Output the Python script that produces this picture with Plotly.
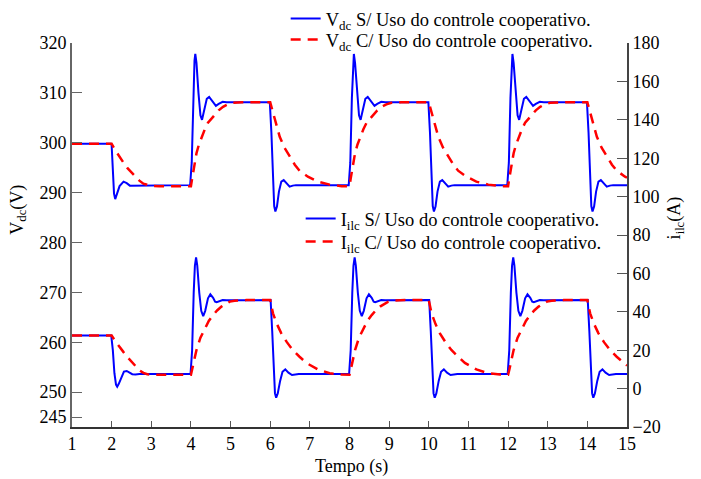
import plotly.graph_objects as go

# ---------------- data ----------------
vdc_s_t = [
    1.0, 1.98, 2.0, 2.03, 2.06, 2.09, 2.13, 2.2, 2.3, 2.38, 2.46, 2.55, 2.65,
    3.98, 4.02, 4.06, 4.09, 4.11, 4.14, 4.19, 4.24, 4.28, 4.33, 4.40, 4.46, 4.53, 4.59, 4.63, 4.70, 4.80, 4.90,
    5.99, 6.03, 6.07, 6.10, 6.13, 6.17, 6.22, 6.28, 6.34, 6.41, 6.49, 6.57, 6.65,
    7.98, 8.02, 8.06, 8.09, 8.11, 8.14, 8.19, 8.24, 8.28, 8.33, 8.40, 8.46, 8.53, 8.59, 8.63, 8.70, 8.80, 8.90,
    9.99, 10.03, 10.07, 10.10, 10.13, 10.17, 10.22, 10.28, 10.34, 10.41, 10.49, 10.57, 10.65,
    11.98, 12.02, 12.06, 12.09, 12.11, 12.14, 12.19, 12.24, 12.28, 12.33, 12.40, 12.46, 12.53, 12.59, 12.63, 12.70, 12.80, 12.90,
    13.99, 14.03, 14.07, 14.10, 14.13, 14.17, 14.22, 14.28, 14.34, 14.41, 14.49, 14.57, 14.65,
    15.0]
vdc_s = [
    299.8, 299.8, 299.5, 294.0, 289.8, 288.7, 289.5, 291.3, 292.2, 291.9, 291.4, 291.4, 291.5,
    291.5, 296.0, 309.0, 316.5, 317.8, 316.0, 310.0, 305.5, 304.6, 306.3, 308.8, 309.2, 308.4, 307.6, 307.4, 307.8, 308.2, 308.1,
    308.1, 302.0, 292.0, 287.3, 286.2, 287.2, 290.2, 292.2, 292.5, 291.8, 291.2, 291.4, 291.5,
    291.5, 296.0, 309.0, 316.5, 317.8, 316.0, 310.0, 305.5, 304.6, 306.3, 308.8, 309.2, 308.4, 307.6, 307.4, 307.8, 308.2, 308.1,
    308.1, 302.0, 292.0, 287.3, 286.2, 287.2, 290.2, 292.2, 292.5, 291.8, 291.2, 291.4, 291.5,
    291.5, 296.0, 309.0, 316.5, 317.8, 316.0, 310.0, 305.5, 304.6, 306.3, 308.8, 309.2, 308.4, 307.6, 307.4, 307.8, 308.2, 308.1,
    308.1, 302.0, 292.0, 287.3, 286.2, 287.2, 290.2, 292.2, 292.5, 291.8, 291.2, 291.4, 291.5,
    291.5]

vdc_c_t = [
    1.0, 2.0, 2.1, 2.2, 2.3, 2.4, 2.5, 2.6, 2.7, 2.8, 2.9, 3.0, 3.2,
    4.0, 4.03, 4.06, 4.10, 4.14, 4.20, 4.27, 4.35, 4.43, 4.52, 4.60, 4.70, 4.81, 4.93, 5.06, 5.30,
    6.0, 6.03, 6.10, 6.17, 6.24, 6.36, 6.49, 6.62, 6.74, 6.85, 6.95, 7.20, 7.50, 7.80,
    8.0, 8.03, 8.06, 8.10, 8.14, 8.20, 8.27, 8.35, 8.43, 8.52, 8.60, 8.70, 8.81, 8.93, 9.06, 9.30,
    10.0, 10.03, 10.10, 10.17, 10.24, 10.36, 10.49, 10.62, 10.74, 10.85, 10.95, 11.20, 11.50, 11.80,
    12.0, 12.03, 12.06, 12.10, 12.14, 12.20, 12.27, 12.35, 12.43, 12.52, 12.60, 12.70, 12.81, 12.93, 13.06, 13.30,
    14.0, 14.03, 14.10, 14.17, 14.24, 14.36, 14.49, 14.62, 14.74, 14.85, 14.95, 15.0]
vdc_c = [
    299.8, 299.8, 298.4, 297.1, 296.0, 294.9, 294.0, 293.1, 292.4, 291.8, 291.5, 291.35, 291.3,
    291.3, 292.8, 294.2, 296.2, 297.9, 299.6, 301.2, 302.7, 304.0, 304.9, 305.6, 306.5, 307.2, 307.7, 308.0, 308.1,
    308.1, 307.2, 305.1, 303.1, 301.2, 299.0, 297.2, 295.6, 294.4, 293.7, 293.2, 292.2, 291.6, 291.3,
    291.3, 292.8, 294.2, 296.2, 297.9, 299.6, 301.2, 302.7, 304.0, 304.9, 305.6, 306.5, 307.2, 307.7, 308.0, 308.1,
    308.1, 307.2, 305.1, 303.1, 301.2, 299.0, 297.2, 295.6, 294.4, 293.7, 293.2, 292.2, 291.6, 291.3,
    291.3, 292.8, 294.2, 296.2, 297.9, 299.6, 301.2, 302.7, 304.0, 304.9, 305.6, 306.5, 307.2, 307.7, 308.0, 308.1,
    308.1, 307.2, 305.1, 303.1, 301.2, 299.0, 297.2, 295.6, 294.4, 293.7, 293.2, 293.0]

ilc_s_t = [
    1.0, 1.99, 2.03, 2.07, 2.11, 2.14, 2.18, 2.25, 2.31, 2.38, 2.45, 2.52, 2.60, 2.70,
    3.99, 4.03, 4.07, 4.10, 4.13, 4.16, 4.21, 4.26, 4.31, 4.36, 4.43, 4.49, 4.56, 4.61, 4.65, 4.72, 4.80, 4.90,
    6.01, 6.05, 6.09, 6.12, 6.15, 6.19, 6.25, 6.31, 6.38, 6.46, 6.55, 6.63, 6.72,
    7.99, 8.03, 8.07, 8.10, 8.13, 8.16, 8.21, 8.26, 8.31, 8.36, 8.43, 8.49, 8.56, 8.61, 8.65, 8.72, 8.80, 8.90,
    10.01, 10.05, 10.09, 10.12, 10.15, 10.19, 10.25, 10.31, 10.38, 10.46, 10.55, 10.63, 10.72,
    11.99, 12.03, 12.07, 12.10, 12.13, 12.16, 12.21, 12.26, 12.31, 12.36, 12.43, 12.49, 12.56, 12.61, 12.65, 12.72, 12.80, 12.90,
    14.01, 14.05, 14.09, 14.12, 14.15, 14.19, 14.25, 14.31, 14.38, 14.46, 14.55, 14.63, 14.72,
    15.0]
ilc_s = [
    27.6, 27.6, 20.0, 8.0, 2.0, 1.0, 2.5, 6.5, 8.9, 9.2, 8.3, 7.5, 7.4, 7.6,
    7.6, 20.0, 50.0, 64.0, 68.4, 64.0, 50.0, 40.5, 37.8, 40.5, 47.0, 49.1, 47.3, 45.3, 45.0, 45.6, 46.1, 46.0,
    46.1, 30.0, 8.0, -2.5, -4.7, -2.5, 4.0, 8.8, 10.0, 8.3, 7.1, 7.4, 7.6,
    7.6, 20.0, 50.0, 64.0, 68.4, 64.0, 50.0, 40.5, 37.8, 40.5, 47.0, 49.1, 47.3, 45.3, 45.0, 45.6, 46.1, 46.0,
    46.1, 30.0, 8.0, -2.5, -4.7, -2.5, 4.0, 8.8, 10.0, 8.3, 7.1, 7.4, 7.6,
    7.6, 20.0, 50.0, 64.0, 68.4, 64.0, 50.0, 40.5, 37.8, 40.5, 47.0, 49.1, 47.3, 45.3, 45.0, 45.6, 46.1, 46.0,
    46.1, 30.0, 8.0, -2.5, -4.7, -2.5, 4.0, 8.8, 10.0, 8.3, 7.1, 7.4, 7.6,
    7.6]

ilc_c_t = [
    1.0, 2.0, 2.1, 2.2, 2.3, 2.4, 2.5, 2.6, 2.7, 2.8, 2.9, 3.0, 3.2,
    4.0, 4.03, 4.08, 4.14, 4.24, 4.35, 4.45, 4.56, 4.66, 4.77, 4.88, 4.98, 5.10, 5.23, 5.40,
    6.0, 6.07, 6.17, 6.28, 6.42, 6.57, 6.74, 6.91, 7.20, 7.50, 7.80,
    8.0, 8.03, 8.08, 8.14, 8.24, 8.35, 8.45, 8.56, 8.66, 8.77, 8.88, 8.98, 9.10, 9.23, 9.40,
    10.0, 10.07, 10.17, 10.28, 10.42, 10.57, 10.74, 10.91, 11.20, 11.50, 11.80,
    12.0, 12.03, 12.08, 12.14, 12.24, 12.35, 12.45, 12.56, 12.66, 12.77, 12.88, 12.98, 13.10, 13.23, 13.40,
    14.0, 14.07, 14.17, 14.28, 14.42, 14.57, 14.74, 14.91, 15.0]
ilc_c = [
    27.6, 27.6, 24.5, 21.5, 19.0, 16.4, 14.0, 11.5, 9.5, 8.2, 7.5, 7.3, 7.2,
    7.2, 9.7, 14.5, 20.1, 26.5, 31.4, 35.2, 38.3, 40.7, 42.7, 44.2, 45.3, 45.8, 46.1, 46.1,
    46.1, 39.2, 33.6, 28.8, 24.2, 20.1, 16.6, 13.4, 10.0, 8.0, 7.3,
    7.2, 9.7, 14.5, 20.1, 26.5, 31.4, 35.2, 38.3, 40.7, 42.7, 44.2, 45.3, 45.8, 46.1, 46.1,
    46.1, 39.2, 33.6, 28.8, 24.2, 20.1, 16.6, 13.4, 10.0, 8.0, 7.3,
    7.2, 9.7, 14.5, 20.1, 26.5, 31.4, 35.2, 38.3, 40.7, 42.7, 44.2, 45.3, 45.8, 46.1, 46.1,
    46.1, 39.2, 33.6, 28.8, 24.2, 20.1, 16.6, 13.4, 12.0]

x_ticks = list(range(1, 16))
left_ticks = [245, 250, 260, 270, 280, 290, 300, 310, 320]
right_ticks = list(range(-20, 181, 20))

# ---------------- figure ----------------
FONT = "Liberation Serif"
BLUE = "#0000ff"
RED = "#ff0000"
DASH = "10px,7px"

fig = go.Figure()
fig.add_trace(go.Scatter(x=vdc_s_t, y=vdc_s, mode="lines", line=dict(color=BLUE, width=2),
                         name="V<sub>dc</sub> S/ Uso do controle cooperativo.", legend="legend"))
fig.add_trace(go.Scatter(x=vdc_c_t, y=vdc_c, mode="lines", line=dict(color=RED, width=2.5, dash=DASH),
                         name="V<sub>dc</sub> C/ Uso do controle cooperativo.", legend="legend2"))
fig.add_trace(go.Scatter(x=ilc_s_t, y=ilc_s, mode="lines", line=dict(color=BLUE, width=2),
                         name="I<sub>ilc</sub> S/ Uso do controle cooperativo.", legend="legend3", yaxis="y2"))
fig.add_trace(go.Scatter(x=ilc_c_t, y=ilc_c, mode="lines", line=dict(color=RED, width=2.5, dash=DASH),
                         name="I<sub>ilc</sub> C/ Uso do controle cooperativo.", legend="legend4", yaxis="y2"))

tickfont = dict(family=FONT, size=18, color="black")
legfont = dict(family=FONT, size=18.5, color="black")


def leg(x, y):
    return dict(x=x, y=y, xanchor="left", yanchor="middle", bgcolor="rgba(0,0,0,0)",
                font=legfont, itemwidth=30)


fig.update_layout(
    width=701, height=479,
    margin=dict(l=72, r=74, t=43, b=52, autoexpand=False),
    paper_bgcolor="white", plot_bgcolor="white",
    font=dict(family=FONT, size=18, color="black"),
    showlegend=True,
    xaxis=dict(range=[1, 15], tickvals=x_ticks, ticks="inside", ticklen=6, tickcolor="#555",
               showline=True, linecolor="#333", linewidth=1.5, showgrid=False, zeroline=False,
               tickfont=tickfont),
    yaxis=dict(range=[243, 320], tickvals=left_ticks, ticks="inside", ticklen=10, tickcolor="#666",
               showline=True, linecolor="#666", linewidth=2, showgrid=False, zeroline=False,
               tickfont=tickfont),
    yaxis2=dict(range=[-20, 180], tickvals=right_ticks, ticks="inside", ticklen=10, tickcolor="#555",
                showline=True, linecolor="#444", linewidth=2, showgrid=False, zeroline=False,
                overlaying="y", side="right", tickfont=tickfont),
    legend=leg(0.385, 1.0625),
    legend2=leg(0.385, 1.0078),
    legend3=leg(0.412, 0.5417),
    legend4=leg(0.412, 0.4818),
    annotations=[
        dict(text="Tempo (s)", x=0.504, y=-0.1016, xref="paper", yref="paper", showarrow=False,
             xanchor="center", yanchor="middle", font=dict(family=FONT, size=18)),
        dict(text="V<sub>dc</sub>(V)", x=-0.098, y=0.565, xref="paper", yref="paper", showarrow=False,
             textangle=-90, xanchor="center", yanchor="middle", font=dict(family=FONT, size=18)),
        dict(text="i<sub>ilc</sub>(A)", x=1.087, y=0.544, xref="paper", yref="paper", showarrow=False,
             textangle=-90, xanchor="center", yanchor="middle", font=dict(family=FONT, size=18)),
    ],
)

fig.write_html("out.html")
